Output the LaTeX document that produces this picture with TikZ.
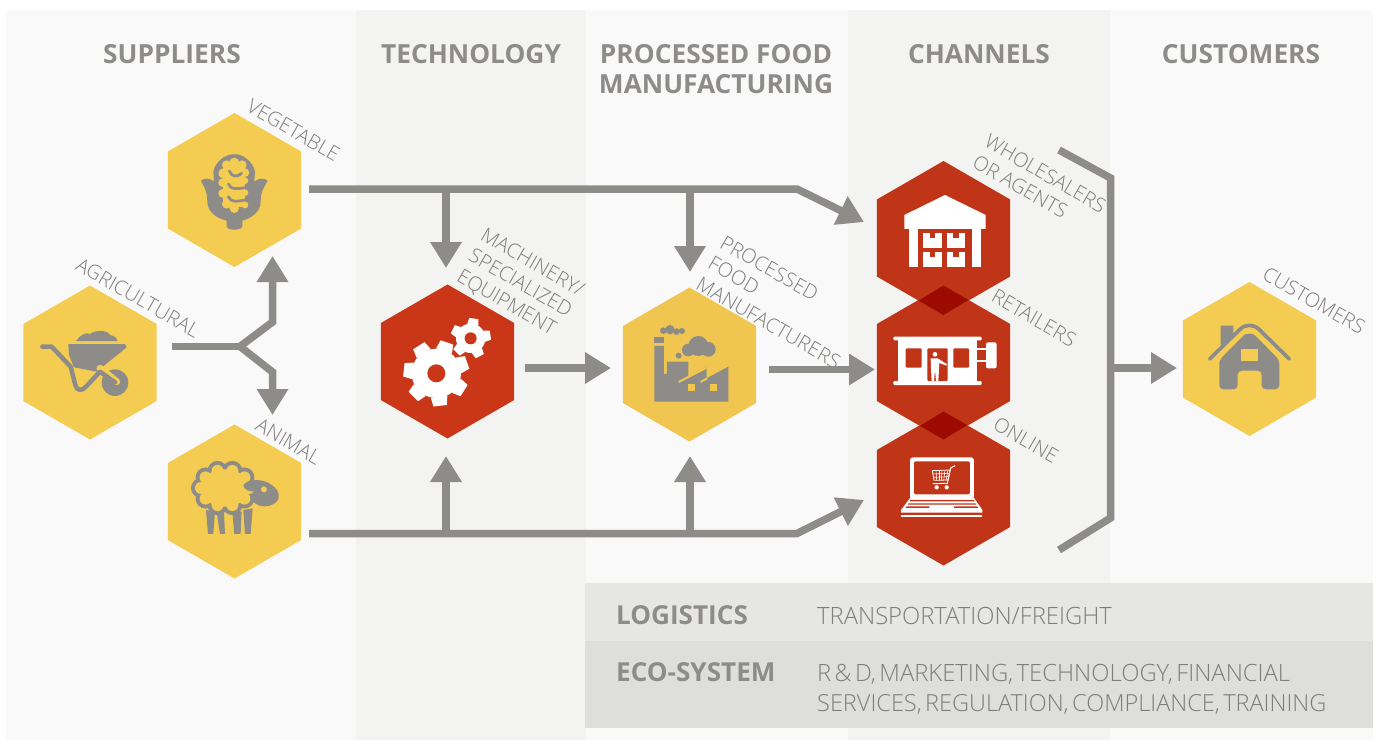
\documentclass[tikz,border=0pt]{standalone}
\usepackage{fontspec}
\usetikzlibrary{shapes.geometric,arrows.meta}
\setmainfont{Open Sans}
\newfontfamily\lightf{Open Sans Light}
\newcommand{\bandsp}{\spaceskip=3.4pt\relax}
\definecolor{panelA}{HTML}{F9F9F9}
\definecolor{panelB}{HTML}{F3F3F2}
\definecolor{bandA}{HTML}{E6E6E5}
\definecolor{bandB}{HTML}{DEDEDC}
\definecolor{ink}{HTML}{8D8C89}
\definecolor{inkT}{HTML}{7E7D7A}
\definecolor{honey}{HTML}{F5CC52}
\definecolor{honeyB}{HTML}{F0C650}
\definecolor{brick}{HTML}{C03418}
\definecolor{brickB}{HTML}{C93618}
\definecolor{brickD}{HTML}{9C0A00}
\tikzset{
 hexbase/.style={regular polygon,regular polygon sides=6,shape border rotate=30,minimum size=154pt,inner sep=0pt,outer sep=0pt,draw=none},
 hexy/.style={hexbase,fill=honey},
 hexr/.style={hexbase,fill=brick},
 flow/.style={draw=ink,line width=7.5pt,line join=miter},
 flowhead/.style={flow,-{Triangle[width=30pt,length=26pt]}},
 head/.style={font=\bfseries\fontsize{26.3}{30}\selectfont,text=ink,align=center,anchor=base,inner sep=0pt},
 lab/.style={font=\lightf\fontsize{20}{23.8}\selectfont,text=inkT,rotate=-30,align=left,inner sep=0pt},
 bandh/.style={font=\bfseries\fontsize{26.1}{30}\selectfont,text=ink,anchor=base west,inner sep=0pt},
 bandt/.style={font=\lightf\fontsize{23.8}{30}\selectfont,text=inkT,anchor=base west,align=left,inner sep=0pt},
}
\newcommand{\gearicon}[8]{%
 \begin{scope}[shift={(#1,#2)}]
  \fill[white] (0,0) circle[radius=#3];
  \foreach \k in {1,...,#6}{
   \fill[white,rotate=#8+\k*360/#6] (-#7,-#3+3) -- (-#7*0.8,-#4) -- (#7*0.8,-#4) -- (#7,-#3+3) -- cycle;
  }
  \fill[brickB] (0,0) circle[radius=#5];
 \end{scope}}
\begin{document}
\begin{tikzpicture}[x=1pt,y=-1pt]
\useasboundingbox (0,0) rectangle (1379,740);
% panels
\fill[white] (0,0) rectangle (1379,740);
\fill[panelA] (6,10) rectangle (356,740);
\fill[panelB] (356,10) rectangle (586,740);
\fill[panelA] (586,10) rectangle (848,740);
\fill[panelB] (848,10) rectangle (1110,740);
\fill[panelA] (1110,10) rectangle (1373,740);
\fill[bandA] (585,583) rectangle (1373,641);
\fill[bandB] (585,641) rectangle (1373,728);
% headings
\node[head] (hSup) at (172,63) {SUPPLIERS};
\node[head] (hTec) at (471,63) {TECHNOLOGY};
\node[head] (hPro) at (716,93) {PROCESSED FOOD\\MANUFACTURING};
\node[head] (hCha) at (979,63) {CHANNELS};
\node[head] (hCus) at (1241,63) {CUSTOMERS};
% hexagons
\node[hexy] (veg) at (234.5,190) {};
\node[hexy] (agr) at (90,362.5) {};
\node[hexy] (ani) at (234.5,501.5) {};
\node[hexbase,fill=brickB] (mac) at (447.5,361.5) {};
\node[hexbase,fill=honeyB] (pro) at (689.5,364.5) {};
\node[hexr] (who) at (943.5,238) {};
\node[hexr] (ret) at (943.5,362.5) {};
\node[hexr] (onl) at (943.5,488.5) {};
\node[hexy] (cus) at (1249.5,359) {};
\fill[brickD] (ret.north) -- ++(25,14.4) -- (who.south) -- ++(-25,-14.4) -- cycle;
\fill[brickD] (onl.north) -- ++(23.6,13.6) -- (ret.south) -- ++(-23.6,-13.6) -- cycle;
% labels
\node[lab] (lVeg) at (293.5,130) {VEGETABLE};
\node[lab] (lAgr) at (138,297.5) {AGRICULTURAL};
\node[lab] (lAni) at (288.5,441.5) {ANIMAL};
\node[lab,anchor=west] (lMac) at (470,255) {MACHINERY/\\SPECIALIZED\\EQUIPMENT};
\node[lab,anchor=west] (lPro) at (710,261.5) {PROCESSED\\FOOD\\MANUFACTURERS};
\node[lab,anchor=west] (lWho) at (980.5,150) {WHOLESALERS\\OR AGENTS};
\node[lab] (lRet) at (1034,318) {RETAILERS};
\node[lab] (lOnl) at (1026,440) {ONLINE};
\node[lab] (lCus) at (1314,300.5) {CUSTOMERS};
% connectors
\coordinate (vegOut) at (309,189);
\coordinate (topBend) at (797,189);
\coordinate (topTip) at (864,222);
\coordinate (topA) at (446,189);
\coordinate (topB) at (690,189);
\coordinate (macTop) at (446,268);
\coordinate (proTop) at (690,272);
\coordinate (aniOut) at (309,533.5);
\coordinate (botBend) at (797,533.5);
\coordinate (botTip) at (864,500);
\coordinate (botA) at (446,533.5);
\coordinate (botB) at (690,533.5);
\coordinate (macBot) at (446,456);
\coordinate (proBot) at (690,456);
\coordinate (agrOut) at (172,346.5);
\coordinate (fork) at (240,346.5);
\coordinate (upBend) at (272.5,322);
\coordinate (upTip) at (272.5,256);
\coordinate (dnBend) at (272.5,372);
\coordinate (dnTip) at (272.5,415);
\coordinate (macOut) at (525,368);
\coordinate (proIn) at (611,368);
\coordinate (proOut) at (769,369.5);
\coordinate (retIn) at (875,369.5);
\coordinate (brA) at (1059,150);
\coordinate (brB) at (1110.5,178);
\coordinate (brC) at (1110.5,518);
\coordinate (brD) at (1059,550);
\coordinate (brOut) at (1110.5,368);
\coordinate (cusIn) at (1177,368);
\draw[flowhead] (vegOut) -- (topBend) -- (topTip);
\draw[flowhead] (aniOut) -- (botBend) -- (botTip);
\draw[flowhead] (topA) -- (macTop);
\draw[flowhead] (topB) -- (proTop);
\draw[flowhead] (botA) -- (macBot);
\draw[flowhead] (botB) -- (proBot);
\draw[flow] (agrOut) -- (fork);
\draw[flowhead] (fork) -- (upBend) -- (upTip);
\draw[flowhead] (fork) -- (dnBend) -- (dnTip);
\draw[flowhead] (macOut) -- (proIn);
\draw[flowhead] (proOut) -- (retIn);
\draw[flow] (brA) -- (brB) -- (brC) -- (brD);
\draw[flowhead] (brOut) -- (cusIn);
% band text
\node[bandh] (bLog) at (616,624) {LOGISTICS};
\node[bandt] (bLogT) at (817,624) {TRANSPORTATION/FREIGHT};
\node[bandh] (bEco) at (616,681) {ECO-SYSTEM};
\node[bandt] (bEcoT) at (817,711) {\bandsp R \& D, MARKETING, TECHNOLOGY, FINANCIAL\\{\fontsize{23.5}{30}\selectfont\bandsp SERVICES, REGULATION, COMPLIANCE, TRAINING}};
% corn
\begin{scope}[shift={(0,90)},x=0.3333pt,y=-0.3333pt]
 \fill[ink] (603,272) .. controls (615,262) and (630,265) .. (642,275) -- (640,245) .. controls (645,215) and (680,190) .. (703,193) .. controls (726,190) and (760,215) .. (765,245) -- (763,275) .. controls (775,265) and (790,262) .. (803,272) .. controls (795,290) and (782,300) .. (782,335) .. controls (782,365) and (755,385) .. (727,392) -- (727,408) .. controls (727,416) and (716,419) .. (703,419) .. controls (690,419) and (680,416) .. (680,408) -- (680,392) .. controls (650,385) and (622,365) .. (622,335) .. controls (622,300) and (610,290) .. (603,272) -- cycle;
 \fill[honey] (670,225) rectangle (735,350);
 \fill[honey] (703,218) circle[radius=15];
 \fill[honey] (680,225) circle[radius=14];
 \fill[honey] (726,225) circle[radius=14];
 \fill[honey] (670,250) circle[radius=15];
 \fill[honey] (735,248) circle[radius=13];
 \fill[honey] (668,278) circle[radius=13];
 \fill[honey] (735,272) circle[radius=10];
 \fill[honey] (668,310) circle[radius=13];
 \fill[honey] (735,308) circle[radius=10];
 \fill[honey] (680,342) circle[radius=14];
 \fill[honey] (735,345) circle[radius=10];
 \fill[honey] (703,355) circle[radius=14];
 \draw[ink,line width=2.7pt,line cap=round] (688,243) .. controls (695,262) and (712,262) .. (725,250);
 \draw[ink,line width=2.7pt,line cap=round] (685,282) .. controls (692,300) and (712,298) .. (752,290);
 \draw[ink,line width=2.7pt,line cap=round] (685,320) .. controls (692,338) and (712,336) .. (752,326);
\end{scope}
% wheelbarrow
\begin{scope}[shift={(0,330)},x=0.3333pt,y=-0.3333pt]
 \fill[ink] (228,33) .. controls (240,15) and (260,5) .. (270,12) .. controls (285,0) and (320,-2) .. (330,15) .. controls (345,18) and (352,25) .. (353,33) -- cycle;
 \fill[ink] (205,42) -- (375,42) -- (380,52) -- (290,125) -- (222,112) -- (207,75) -- cycle;
 \fill[ink] (345,158) circle[radius=40];
 \draw[honey,line width=7pt,line cap=round] (300,115) -- (350,155);
 \draw[ink,line width=4.5pt,line cap=round,line join=round] (127,50) -- (155,50) -- (212,110) -- (226,165) .. controls (230,182) and (245,185) .. (258,170) -- (300,125) -- (345,157);
\end{scope}
% sheep
\begin{scope}[shift={(0,330)},x=0.3333pt,y=-0.3333pt]
 \fill[ink] (618,540) -- (624,612) -- (640,612) -- (645,545) -- cycle;
 \fill[ink] (650,545) -- (660,612) -- (675,612) -- (672,545) -- cycle;
 \fill[ink] (697,545) -- (703,612) -- (722,612) -- (725,545) -- cycle;
 \fill[ink] (730,540) -- (735,612) -- (752,612) -- (758,535) -- cycle;
 \foreach \t in {0,36,...,324}{\fill[ink] ({675+72*cos(\t)},{474+54*sin(\t)}) circle[radius=30];}
 \foreach \t in {0,36,...,324}{\fill[honey] ({675+72*cos(\t)},{474+54*sin(\t)}) circle[radius=18];}
 \fill[honey] (675,474) ellipse[x radius=74,y radius=56];
 \fill[ink] (730,465) .. controls (745,445) and (790,445) .. (815,465) .. controls (840,480) and (845,510) .. (820,522) .. controls (800,535) and (770,530) .. (755,510) -- (765,485) .. controls (750,485) and (730,480) .. (730,465) -- cycle;
 \fill[honey] (792,478) circle[radius=9];
\end{scope}
% gears
\begin{scope}[shift={(370,220)},x=0.3333pt,y=-0.3333pt]
 \gearicon{199}{460}{74}{98}{27}{7}{25}{-19}
 \gearicon{302}{355}{44}{60}{18}{5}{17}{-9}
\end{scope}
% factory
\begin{scope}[shift={(370,220)},x=0.3333pt,y=-0.3333pt]
 \fill[ink] (853,350) rectangle (882,369);
 \fill[ink] (853,378) -- (882,378) -- (882,462) -- (891,462) -- (891,425) -- (955,425) -- (955,470) -- (1010,440) -- (1010,475) -- (1075,440) -- (1075,545) -- (853,545) -- cycle;
 \draw[honeyB,line width=2pt] (926,486) -- (1012,442);
 \draw[honeyB,line width=2pt] (992,486) -- (1012,475);
 \fill[honeyB] (955,493) rectangle (975,512);
 \fill[honeyB] (1020,493) rectangle (1040,512);
 \fill[ink] (985,378) circle[radius=30];
 \fill[ink] (955,390) circle[radius=19];
 \fill[ink] (1015,388) circle[radius=22];
 \fill[ink] (926,407) circle[radius=9];
 \fill[ink] (880,332) circle[radius=10];
 \fill[ink] (900,329) circle[radius=14];
 \fill[ink] (920,335) circle[radius=10];
 \fill[ink] (936,333) circle[radius=9];
\end{scope}
% warehouse
\begin{scope}[shift={(860,130)},x=0.3333pt,y=-0.3333pt]
 \fill[white] (255,195) -- (377,255) -- (377,297) -- (133,297) -- (133,255) -- cycle;
 \fill[white] (148,297) rectangle (174,410);
 \fill[white] (335,297) rectangle (362,410);
 \foreach \a/\b in {190/310,260/310,190/366,260/366}{
  \fill[white] (\a,\b) rectangle ++(56,44);
  \fill[brick] (\a+20,\b) rectangle ++(16,14);
 }
\end{scope}
% store
\begin{scope}[shift={(885,325)},x=0.3333pt,y=-0.3333pt]
 \fill[white,rounded corners=1pt] (25,35) rectangle (290,46);
 \fill[white] (40,46) rectangle (275,168);
 \fill[white,rounded corners=1pt] (25,168) rectangle (290,180);
 \fill[brick,rounded corners=1pt] (62,70) rectangle (110,128);
 \fill[brick,rounded corners=1pt] (205,70) rectangle (252,128);
 \fill[brick,rounded corners=1pt] (127,70) rectangle (188,168);
 \fill[white] (150,88) circle[radius=7];
 \fill[white] (137,100) -- (158,100) -- (185,117) -- (185,122) -- (162,114) -- (162,132) -- (160,168) -- (153,168) -- (150,135) -- (147,168) -- (140,168) -- (138,130) -- cycle;
 \fill[white] (275,68) rectangle (303,76);
 \fill[white] (275,105) rectangle (303,112);
 \fill[white,rounded corners=2pt] (303,52) rectangle (335,130);
\end{scope}
% laptop
\begin{scope}[shift={(860,340)},x=0.3333pt,y=-0.3333pt]
 \fill[white,rounded corners=3pt] (150,352) rectangle (342,478);
 \fill[brick,rounded corners=2pt] (162,364) rectangle (330,463);
 \fill[white] (150,474) -- (342,474) -- (367,510) -- (367,518) -- (123,518) -- (123,510) -- cycle;
 \fill[brick] (150,480) -- (342,480) -- (344,484) -- (148,484) -- cycle;
 \fill[brick] (146,490) -- (346,490) -- (349,494) -- (143,494) -- cycle;
 \fill[brick] (140,499) -- (208,499) -- (208,504) -- (137,504) -- cycle;
 \fill[brick] (282,499) -- (352,499) -- (355,504) -- (282,504) -- cycle;
 \fill[white] (123,524) rectangle (367,532);
 \draw[white,line width=0.8pt] (217,392) -- (270,390) -- (264,420) -- (222,421) -- cycle;
 \foreach \t in {0,1,2,3,4}{\draw[white,line width=0.6pt] (228+\t*9,391) -- (230+\t*7,421);}
 \foreach \u in {1,2}{\draw[white,line width=0.6pt] (219,392+\u*10) -- (267,390+\u*10);}
 \draw[white,line width=1pt,line cap=round] (285,377) -- (272,384) -- (262,430) -- (219,431);
 \fill[white] (230,442) circle[radius=6.5];
 \fill[white] (260,442) circle[radius=6.5];
\end{scope}
% house
\begin{scope}[shift={(1110,250)},x=0.3333pt,y=-0.3333pt]
 \fill[ink] (332,227) -- (370,227) -- (370,262) -- (332,298) -- cycle;
 \draw[ink,line width=3.7pt,line cap=round,line join=round] (299,327) -- (390,238) .. controls (405,222) and (431,222) .. (447,238) -- (538,327);
 \draw[honey,line width=2pt] (320,324) -- (395,250) .. controls (408,238) and (428,238) .. (441,250) -- (516,324);
 \fill[ink,rounded corners=4pt] (328,345) -- (328,330) -- (395,262) .. controls (408,250) and (428,250) .. (441,262) -- (508,330) -- (508,418) -- (455,418) -- (455,362) -- (383,362) -- (383,418) -- (328,418) -- cycle;
 \fill[honey] (393,297) rectangle (443,333);
\end{scope}
\end{tikzpicture}
\end{document}
